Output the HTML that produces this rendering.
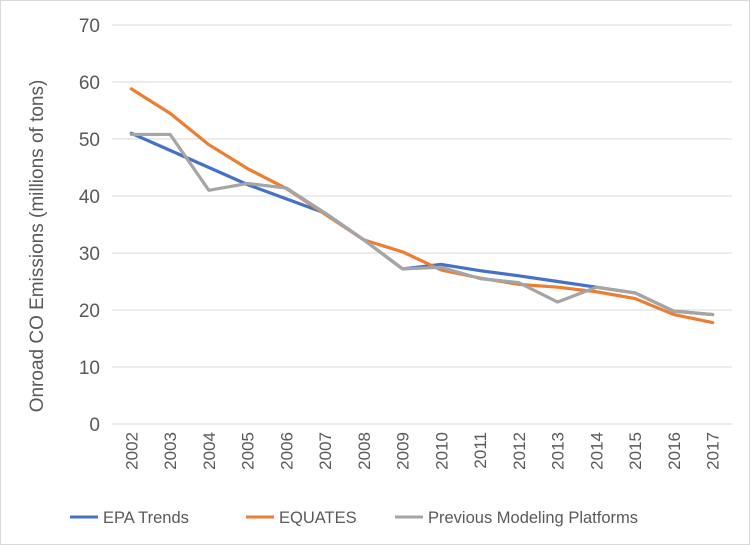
<!DOCTYPE html>
<html><head><meta charset="utf-8"><style>
body{margin:0;background:#fff;font-family:"Liberation Sans",Arial,sans-serif;}
svg text{font-family:"Liberation Sans",Arial,sans-serif;fill:#595959;}
</style></head><body>
<svg id="chart" width="750" height="545" viewBox="0 0 750 545" xmlns="http://www.w3.org/2000/svg">
<rect x="0.5" y="0.5" width="749" height="544" fill="#fff" stroke="#d9d9d9"/>
<g id="grid"></g><g id="yticks"></g><g id="xticks"></g><g id="series"></g>
<text transform="translate(43,246) rotate(-90)" text-anchor="middle" font-size="19">Onroad CO Emissions (millions of tons)</text>
<g>
<line x1="70" y1="517" x2="98" y2="517" stroke="#4472c4" stroke-width="3"/>
<text x="103" y="523" font-size="16.5">EPA Trends</text>
<line x1="246" y1="517" x2="274" y2="517" stroke="#ed7d31" stroke-width="3"/>
<text x="279" y="523" font-size="16.5">EQUATES</text>
<line x1="395" y1="517" x2="423" y2="517" stroke="#a5a5a5" stroke-width="3"/>
<text x="428" y="523" font-size="16.5">Previous Modeling Platforms</text>
</g>
</svg>
<script>
const years=["2002","2003","2004","2005","2006","2007","2008","2009","2010","2011","2012","2013","2014","2015","2016","2017"];
const epaTrends=[51,48,45,42,39.5,37,32.3,27.2,28,26.9,26,25,24,23,19.8,19.2];
const equates=[58.8,54.5,49,44.8,41.3,36.8,32.3,30.2,27,25.6,24.5,24,23.2,22,19.2,17.8];
const previous=[50.8,50.8,41,42.2,41.4,37,32.3,27.2,27.5,25.5,24.8,21.4,24,23,19.8,19.2];
const yTicks=[0,10,20,30,40,50,60,70];
const ns="http://www.w3.org/2000/svg";
const L=112,R=732,T=25,B=424,yMax=70;
const step=(R-L)/years.length;
const x=i=>L+step*(i+0.5);
const y=v=>B-(v/yMax)*(B-T);
function mk(t,a,parent){const e=document.createElementNS(ns,t);for(const k in a)e.setAttribute(k,a[k]);document.getElementById(parent).appendChild(e);return e;}
yTicks.forEach(v=>{
  const g=mk("line",{x1:L,x2:R,y1:y(v),y2:y(v),stroke:"#d9d9d9","stroke-width":1},"grid");
  
  
  const t=mk("text",{x:L-12,y:y(v)+7,"text-anchor":"end","font-size":"19"},"yticks");
  t.textContent=v;
  
  
});
years.forEach((yr,i)=>{
  const t=mk("text",{transform:`translate(${x(i)+6},${B+8}) rotate(-90)`,"text-anchor":"end","font-size":"17"},"xticks");
  t.textContent=yr;
  
  
});
[[epaTrends,"#4472c4","epa-trends-line"],[equates,"#ed7d31","equates-line"],[previous,"#a5a5a5","previous-platforms-line"]].forEach(([d,c,n])=>{
  const p=mk("polyline",{points:d.map((v,i)=>x(i)+","+y(v)).join(" "),fill:"none",stroke:c,"stroke-width":3.2,"stroke-linejoin":"round","stroke-linecap":"round"},"series");
  
  
});
</script>
</body></html>
